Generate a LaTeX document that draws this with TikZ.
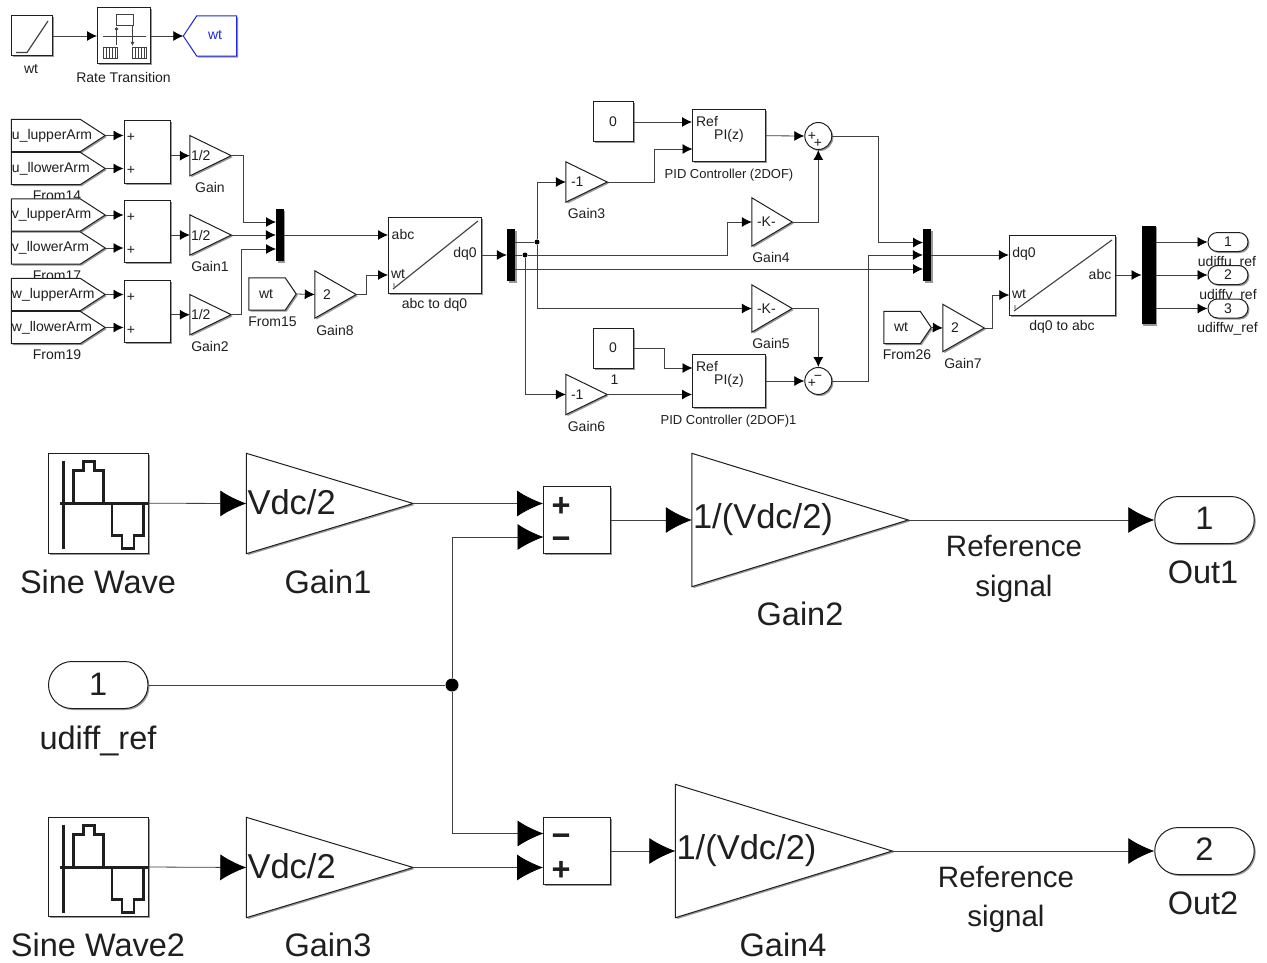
\documentclass[tikz,border=0pt]{standalone}
\usepackage{fontspec}
\setmainfont{Liberation Sans}
\usetikzlibrary{arrows.meta,shadows}

\newcommand{\smallfont}{\fontsize{14}{16}\selectfont}
\newcommand{\pidfont}{\fontsize{13}{15}\selectfont}
\newcommand{\bigfont}{\fontsize{32.5}{38}\selectfont}
\newcommand{\gainfont}{\fontsize{34.5}{40}\selectfont}
\newcommand{\signalfont}{\fontsize{29.5}{34}\selectfont}
\definecolor{wirecol}{gray}{0.25}
\definecolor{inkcol}{gray}{0.12}
\definecolor{gotocol}{RGB}{30,40,225}

\tikzset{
  wire/.style={draw=wirecol,line width=0.8pt,-{Latex[length=10pt,width=10pt,color=black]}},
  line/.style={draw=wirecol,line width=0.8pt},
  bigwire/.style={draw=wirecol,line width=0.8pt,-{Latex[length=26pt,width=26pt,color=black]}},
  edgeshadow/.style={drop shadow={shadow xshift=1.5pt,shadow yshift=-1.5pt,fill=black,opacity=0.4}},
  outline/.style={draw=inkcol,line width=1pt,fill=white,edgeshadow},
  txt/.style={font=\smallfont,text=inkcol,inner sep=0pt},
  bigtxt/.style={font=\bigfont,text=inkcol,inner sep=0pt},
  block/.style 2 args={rectangle,outline,minimum width=#1,minimum height=#2,inner sep=0pt,font=\smallfont,text=inkcol},
  bar/.style 2 args={rectangle,fill=black,edgeshadow,minimum width=#1,minimum height=#2,inner sep=0pt},
  port/.style 2 args={rectangle,outline,rounded corners=#2/2,minimum width=#1,minimum height=#2,inner sep=0pt,font=\smallfont,text=inkcol},
  sumring/.style={circle,outline,minimum size=27pt,inner sep=0pt},
  jointdot/.style={circle,fill=black,inner sep=0pt,minimum size=#1},
  gain/.style 2 args={rectangle,minimum height=#2,text width=#1-2pt,inner xsep=1pt,inner ysep=0pt,align=left,
    font=\smallfont,text=inkcol,
    append after command={\pgfextra{\draw[outline] (\tikzlastnode.north west) -- (\tikzlastnode.east)
      -- (\tikzlastnode.south west) -- cycle;}}},
  frompent/.style n args={4}{rectangle,minimum height=#2,text width=#1-2*#4,inner xsep=#4,inner ysep=0pt,align=left,
    font=\smallfont,text=inkcol,
    append after command={\pgfextra{\draw[outline] (\tikzlastnode.north west) -- ([xshift=-#3]\tikzlastnode.north east)
      -- (\tikzlastnode.east) -- ([xshift=-#3]\tikzlastnode.south east) -- (\tikzlastnode.south west) -- cycle;}}},
  armfrom/.style={frompent={93.5pt}{32pt}{25pt}{0.5pt}},
  wtfrom/.style={frompent={47pt}{32pt}{11pt}{10pt}},
  gotopent/.style={rectangle,minimum width=53pt,minimum height=40pt,inner sep=0pt,font=\smallfont,text=gotocol,
    append after command={\pgfextra{\draw[draw=gotocol,line width=1pt,fill=white,edgeshadow] (\tikzlastnode.west)
      -- ([xshift=13.5pt]\tikzlastnode.north west) -- (\tikzlastnode.north east)
      -- (\tikzlastnode.south east) -- ([xshift=13.5pt]\tikzlastnode.south west) -- cycle;}}},
  sineicon/.pic={
    \draw[line width=3pt,draw=inkcol] (14.5,7) -- (14.5,95);
    \draw[line width=3pt,draw=inkcol] (11,50) -- (99.5,50);
    \draw[line width=2.4pt,draw=inkcol] (25,50) -- (25,17) -- (35,17) -- (35,8) -- (46,8) -- (46,17) -- (55,17) -- (55,50)
      (63.5,50) -- (63.5,82) -- (73.5,82) -- (73.5,95) -- (85.5,95) -- (85.5,82) -- (95,82) -- (95,50);
  }
}

\begin{document}
\begin{tikzpicture}[x=1pt,y=-1pt]
\useasboundingbox[fill=white] (0,0) rectangle (1267,963);

% captions first, some of them sit under the blocks
\foreach \nm/\x/\y/\t in {lwt/31/69/wt,lrate/123.5/77/Rate Transition,lfrom14/57/196/From14,lfrom17/57/276/From17,
  lfrom19/57/355/From19,lgain/210/187/Gain,lgaina/210/266/Gain1,lgainb/210/346/Gain2,lfrom15/272.5/322/From15,
  lgainh/335/330/Gain8,labc/434.5/305/abc to dq0,lgainc/586.5/213.5/Gain3,lgaind/771/257/Gain4,lgaine/771/343.5/Gain5,
  lgainf/586.5/426/Gain6,lone/614.5/380/1,
  ldq/1062/327/dq0 to abc,lfrom26/907/355/From26,lgaing/963/363/Gain7,
  ludu/1227/262.5/udiffu\_ref,ludv/1228/296/udiffv\_ref,ludw/1227.5/329/udiffw\_ref}
  \node[txt] (\nm) at (\x,\y) {\t};
\node[txt,font=\pidfont] (lpid) at (729,175) {PID Controller (2DOF)};
\node[txt,font=\pidfont] (lpidb) at (728.5,421) {PID Controller (2DOF)1};

% top row
\node[block={40.5pt}{40pt}] (ramp) at (31.75,36) {};
\node[block={53pt}{56pt}] (rate) at (124,36) {};
\node[gotopent] (goto) at (210,36) {\hspace*{10pt}\raisebox{2pt}{wt}};
\draw[line,line width=1.2pt] (16,52.5) -- (27,52.5) -- (48,21);
\draw[line] (116,14) rectangle (133,25);
\draw[line] (103,36.5) -- (146,36.5);
\draw[line] (116.5,29) -- (116.5,45);
\fill[wirecol] (116.5,29) circle (1.8);
\draw[line,-{Latex[length=4pt,width=4pt]}] (132.5,25) -- (132.5,46);
\foreach \x in {103,132}{
  \draw[line,fill=white] (\x,47) rectangle ++(14,11);
  \foreach \d in {3,6,9,12} \draw[line] (\x+\d,47) -- (\x+\d,58);
}
\draw[wire] (ramp) -- (rate);
\draw[wire] (rate) -- (goto);

% inputs
\node[armfrom] (fua) at (58.25,135.5) {u\_lupperArm};
\node[armfrom] (fub) at (58.25,168.5) {u\_llowerArm};
\node[armfrom] (fva) at (58.25,215) {v\_lupperArm};
\node[armfrom] (fvb) at (58.25,248) {v\_llowerArm};
\node[armfrom] (fwa) at (58.25,294.5) {w\_lupperArm};
\node[armfrom] (fwb) at (58.25,327.5) {w\_llowerArm};
\node[block={46.5pt}{62.5pt}] (addu) at (147.25,152.25) {};
\node[block={46.5pt}{62.5pt}] (addv) at (147.25,231.25) {};
\node[block={46.5pt}{62.5pt}] (addw) at (147.25,311.25) {};
\node[gain={41pt}{40pt}] (halfu) at (210.5,155.7) {1/2};
\node[gain={41pt}{40pt}] (halfv) at (210.5,235) {1/2};
\node[gain={41pt}{40pt}] (halfw) at (210.5,314.7) {1/2};
\foreach \a/\b in {fua/addu,fub/addu,fva/addv,fvb/addv,fwa/addw,fwb/addw}
  \draw[wire] (\a.east) -- (\a.east -| \b.west);
\draw[wire] (addu.east |- halfu) -- (halfu.west);
\draw[wire] (addv.east |- halfv) -- (halfv.west);
\draw[wire] (addw.east |- halfw) -- (halfw.west);

\node[bar={7.5pt}{52pt}] (muxa) at (279.75,235) {};
\coordinate (muxain) at (276,222);
\coordinate (muxaic) at (276,249);
\draw[wire] (halfu.east) -- ++(12,0) |- (muxain);
\draw[wire] (halfv.east) -- (halfv.east -| muxa.west);
\draw[wire] (halfw.east) -- ++(10,0) |- (muxaic);

\node[wtfrom] (fromw) at (272.5,294) {wt};
\node[gain={41pt}{47pt}] (gainh) at (335.5,294.5) {\hspace*{7pt}2};
\draw[wire] (fromw.east) -- (gainh.west);

% abc to dq0
\node[block={93pt}{76pt}] (abcdq) at (434.5,255) {};
\coordinate (abcin) at (388,235);
\coordinate (abcwt) at (388,275);
\draw[line,line width=1.1pt] (393,289) -- (478,221);
\draw[gray!60,line width=1.5pt] (394,283) -- (394,287);
\draw[wire] (muxa.east) -- (muxa.east -| abcin);
\draw[wire] (gainh.east) -- ++(10,0) |- (abcwt);

\node[bar={8pt}{52pt}] (dema) at (511,255) {};
\draw[wire] (abcdq.east) -- (dema.west);
\coordinate (demaa) at (515,242);
\coordinate (demac) at (515,269);
\node[jointdot=5pt] (dotq) at (537,242) {};
\node[jointdot=5pt] (dotd) at (525,255) {};

% d and q paths
\node[gain={41pt}{40pt}] (gainc) at (586.5,182) {\hspace*{4pt}-1};
\node[gain={40pt}{48pt}] (gaind) at (772,222) {\hspace*{4pt}-K-};
\node[gain={40pt}{47pt}] (gaine) at (772,308.5) {\hspace*{4pt}-K-};
\node[gain={41pt}{40pt}] (gainf) at (586.5,394.5) {\hspace*{4pt}-1};
\node[block={40pt}{40pt}] (constu) at (613,122) {0};
\node[block={40pt}{40pt}] (constd) at (613,348) {0};
\node[block={73pt}{52.5pt}] (pidu) at (729,135.75) {};
\node[block={73pt}{52.5pt}] (pidd) at (729,381) {};
\node[sumring] (sumu) at (818.3,136) {};
\node[sumring] (sumd) at (818.3,381) {};
\coordinate (piduin) at (692.5,149);
\coordinate (piddref) at (692.5,368);
\draw[line] (demaa) -- (dotq);
\draw[line] (dema.east) -- (dotd);
\draw[wire] (dotq) |- (gainc.west);
\draw[wire] (dotq) |- (gaine.west);
\draw[wire] (dotd) -- ++(202,0) |- (gaind.west);
\draw[wire] (dotd) |- (gainf.west);
\draw[wire] (constu.east) -- (constu.east -| pidu.west);
\draw[wire] (gainc.east) -- ++(47.5,0) |- (piduin);
\draw[wire] (constd.east) -- ++(31,0) |- (piddref);
\draw[wire] (gainf.east) -- (gainf.east -| pidd.west);
\draw[wire] (pidu.east) -- (sumu.west);
\draw[wire] (pidd.east) -- (sumd.west);
\draw[wire] (gaind.east) -| (sumu.south);
\draw[wire] (gaine.east) -| (sumd.north);

% dq0 to abc
\node[bar={8pt}{52pt}] (muxb) at (927,255) {};
\coordinate (muxbia) at (923,242.5);
\coordinate (muxbic) at (923,269);
\draw[wire] (demac) -- (muxbic);
\draw[wire] (sumu.east) -- ++(46,0) |- (muxbia);
\draw[wire] (sumd.east) -- ++(36,0) |- (muxb.west);

\node[block={106.5pt}{80pt}] (dqabc) at (1062.5,275) {};
\coordinate (dqwt) at (1009.3,295);
\draw[line,line width=1.1pt] (1014,311) -- (1112,240);
\draw[gray!60,line width=1.5pt] (1015,305) -- (1015,309);
\draw[wire] (muxb.east) -- (muxb.east -| dqabc.west);
\node[wtfrom] (fromz) at (907.5,327.5) {wt};
\node[gain={41pt}{47pt}] (gaing) at (963.5,328) {\hspace*{7pt}2};
\draw[wire] (fromz.east) -- (gaing.west);
\draw[wire] (gaing.east) -- ++(8,0) |- (dqwt);

\node[bar={14pt}{98.5pt}] (demb) at (1148.7,275) {};
\draw[wire] (dqabc.east) -- (dqabc.east -| demb.west);
\node[port={40pt}{19pt}] (outu) at (1228,242) {1};
\node[port={40pt}{19pt}] (outv) at (1228,275) {2};
\node[port={40pt}{19pt}] (outw) at (1228,308.5) {3};
\draw[wire] (demb.east |- outu) -- (outu.west);
\draw[wire] (demb.east |- outv) -- (outv.west);
\draw[wire] (demb.east |- outw) -- (outw.west);

% texts inside the blocks
\foreach \nm/\x/\y/\t in {tabc/403/234/abc,twt/398/274/wt,tdq/465/254/dq0,tdqb/1024/254/dq0,twtb/1019/294/wt,tabcb/1100/274/abc,
  tref/707/122/Ref,tpi/729/136/PI(z),trefb/707/367/Ref,tpib/729/381/PI(z),
  psa/131/137/+,psb/131/170/+,psc/131/217/+,psd/131/250/+,pse/131/297/+,psf/131/330/+,
  sua/812/136.5/+,sub/818/143.5/+,sda/812/383/+,sdb/818/378/−}
  \node[txt] (\nm) at (\x,\y) {\t};

% lower part
\node[block={99.5pt}{99.5pt}] (sinea) at (98.25,503.25) {};
\pic at (48.5,453.5) {sineicon};
\node[block={99.5pt}{99.5pt}] (sineb) at (98.25,867) {};
\pic at (48.5,817.5) {sineicon};
\node[gain={166.5pt}{100pt},font=\gainfont] (vdca) at (329.75,503.5) {\raisebox{4pt}{Vdc/2}};
\node[gain={166.5pt}{100pt},font=\gainfont] (vdcb) at (329.75,867.5) {\raisebox{4pt}{Vdc/2}};
\node[block={66.5pt}{66.5pt}] (dsa) at (576.75,520) {};
\node[block={66.5pt}{66.5pt}] (dsb) at (576.75,851) {};
\node[gain={216pt}{133pt},font=\gainfont] (ivda) at (800,520) {\raisebox{-6pt}{1/(Vdc/2)}};
\node[gain={216.5pt}{133pt},font=\gainfont] (ivdb) at (783.75,851) {\raisebox{-4pt}{1/(Vdc/2)}};
\node[port={99.5pt}{47pt},font=\bigfont] (outa) at (1204.5,520) {\raisebox{4pt}{1}};
\node[port={99.5pt}{47pt},font=\bigfont] (outb) at (1204.5,851) {\raisebox{4pt}{2}};
\node[port={99.5pt}{47pt},font=\bigfont] (udiff) at (98.25,685) {\raisebox{2pt}{1}};
\node[jointdot=13pt] (joint) at (452,685) {};
\coordinate (dsain) at (543.5,537);
\coordinate (dsbin) at (543.5,833.5);

\draw[bigwire] (sinea.east) -- (vdca.west);
\draw[bigwire] (sineb.east) -- (vdcb.west);
\draw[bigwire] (vdca.east) -- (vdca.east -| dsa.west);
\draw[bigwire] (vdcb.east) -- (vdcb.east -| dsb.west);
\draw[bigwire] (joint) |- (dsain);
\draw[bigwire] (joint) |- (dsbin);
\draw[line] (udiff.east) -- (joint);
\draw[bigwire] (dsa.east) -- (ivda.west);
\draw[bigwire] (dsb.east) -- (ivdb.west);
\draw[bigwire] (ivda.east) -- (outa.west);
\draw[bigwire] (ivdb.east) -- (outb.west);

\foreach \nm/\x/\y/\t in {dpa/561/507/+,dma/561/543/−,dmb/561/840/−,dpb/561/871/+}
  \node[bigtxt,font=\bigfont\bfseries] (\nm) at (\x,\y) {\t};
\foreach \nm/\x/\y/\t in {lsinea/98/582/Sine Wave,lsineb/98/945/Sine Wave2,lvdca/328/582/Gain1,lvdcb/328/945/Gain3,
  livda/800/614/Gain2,livdb/783/945/Gain4,lout/1203/572/Out1,loutb/1203/903/Out2,ludiff/98/740.5/udiff\_ref}
  \node[bigtxt] (\nm) at (\x,\y) {\t};
\foreach \nm/\x/\y/\t in {lref/1014/546/Reference,lsig/1014/589/signal,lrefb/1006/877/Reference,lsigb/1006/919/signal}
  \node[bigtxt,font=\signalfont] (\nm) at (\x,\y) {\t};
\end{tikzpicture}
\end{document}
